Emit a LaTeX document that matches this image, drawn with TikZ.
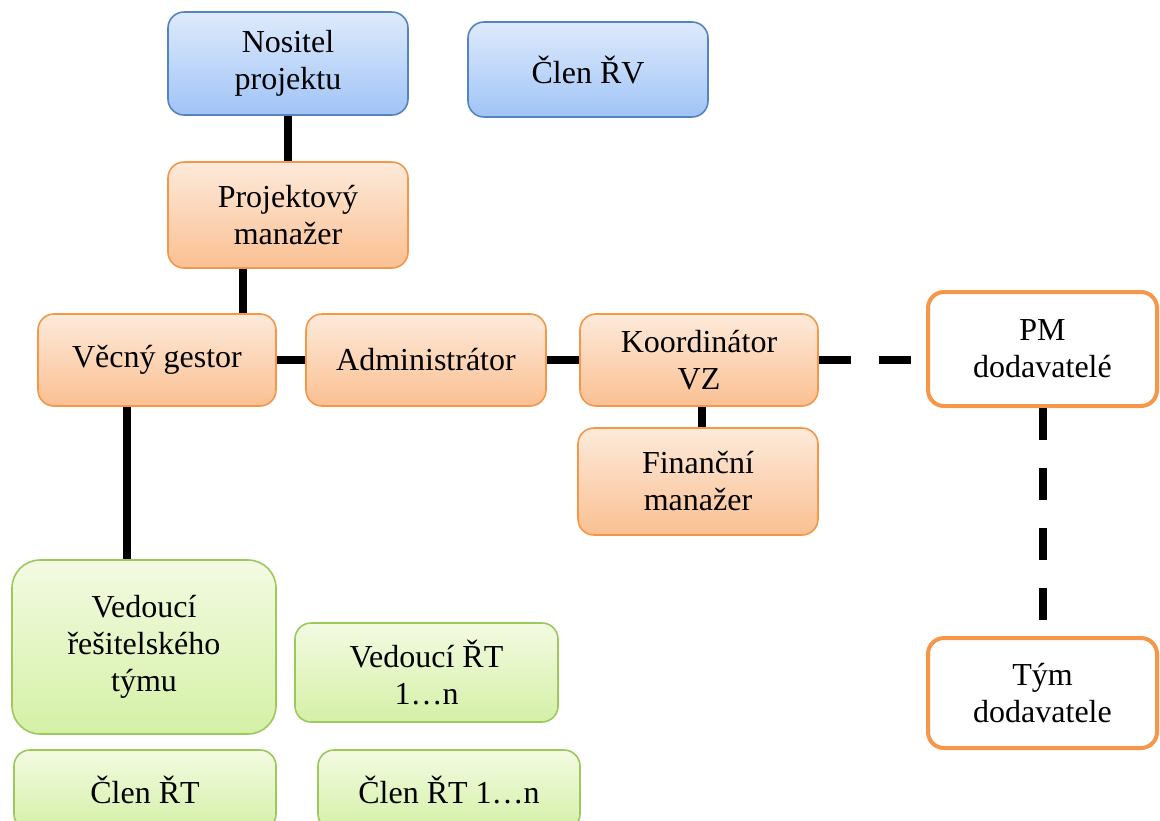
\documentclass[tikz,border=0pt]{standalone}
\usepackage{fontspec}
\setmainfont{Liberation Serif}
\usetikzlibrary{positioning}
\definecolor{bluetop}{RGB}{222,234,252}
\definecolor{bluebot}{RGB}{160,196,246}
\definecolor{blueline}{RGB}{86,132,192}
\definecolor{orangetop}{RGB}{253,234,218}
\definecolor{orangebot}{RGB}{250,192,146}
\definecolor{orangeline}{RGB}{246,150,72}
\definecolor{greentop}{RGB}{243,251,226}
\definecolor{greenbot}{RGB}{212,240,166}
\definecolor{greenline}{RGB}{156,200,92}
\tikzset{
  box/.style    ={rounded corners=16pt, align=center, line width=1.6pt,
                  font=\fontsize{32}{37}\selectfont, inner sep=0pt},
  bluebox/.style={box, draw=blueline, top color=bluetop, bottom color=bluebot},
  orbox/.style  ={box, draw=orangeline, top color=orangetop, bottom color=orangebot},
  grbox/.style  ={box, draw=greenline, top color=greentop, bottom color=greenbot},
  dodbox/.style ={box, draw=orangeline, fill=white, line width=4pt},
  link/.style   ={line width=8pt},
  dlink/.style  ={line width=8pt, dash pattern=on 32pt off 28pt},
}

\begin{document}
\begin{tikzpicture}[x=1pt,y=-1pt]
  \useasboundingbox (0,0) rectangle (1160,820);

  % top row
  \node[bluebox, minimum width=240pt, minimum height=103pt] (nositel) at (288,63.5) {Nositel\\projektu};
  \node[bluebox, minimum width=240pt, minimum height=95pt] (clenrv) at (588,69.5) {Člen ŘV};
  \node[orbox, minimum width=240pt, minimum height=106pt] (projman) at (288,215) {Projektový\\manažer};

  % middle row
  \node[orbox, minimum width=238pt, minimum height=92pt] (gestor) at (157,360) {Věcný gestor};
  \node[orbox, minimum width=240pt, minimum height=92pt] (admin) at (426,360) {Administrátor};
  \node[orbox, minimum width=238pt, minimum height=92pt] (koord) at (699,360) {Koordinátor\\VZ};
  \node[orbox, minimum width=240pt, minimum height=107pt] (finman) at (698,481.5) {Finanční\\manažer};

  % supplier side
  \node[dodbox, minimum width=229pt, minimum height=114pt] (pmdod) at (1042.5,349) {PM\\dodavatelé};
  \node[dodbox, minimum width=229pt, minimum height=110pt] (tymdod) at (1042.5,693) {Tým\\dodavatele};

  % solver teams
  \node[grbox, rounded corners=28pt, minimum width=264pt, minimum height=174pt] (vedouci) at (144,647) {Vedoucí\\řešitelského\\týmu};
  \node[grbox, minimum width=263pt, minimum height=99pt] (vedrt) at (426.5,672.5) {Vedoucí ŘT\\1…n};
  \node[grbox, minimum width=262pt, minimum height=80pt] (clenrt) at (145,790) {Člen ŘT};
  \node[grbox, minimum width=262pt, minimum height=80pt] (clenrtn) at (449,790) {Člen ŘT 1…n};

  % connectors
  \draw[link] (nositel.south) -- (projman.north);
  \draw[link] (projman.south -| 243,0) -- (gestor.north -| 243,0);
  \draw[link] (gestor.east) -- (admin.west);
  \draw[link] (admin.east) -- (koord.west);
  \draw[link] (koord.south -| 702,0) -- (finman.north -| 702,0);
  \draw[link] (gestor.south -| 127,0) -- (vedouci.north -| 127,0);
  \draw[dlink] (koord.east) -- (pmdod.west |- koord.east);
  \draw[dlink] (pmdod.south) -- (tymdod.north);
\end{tikzpicture}
\end{document}
